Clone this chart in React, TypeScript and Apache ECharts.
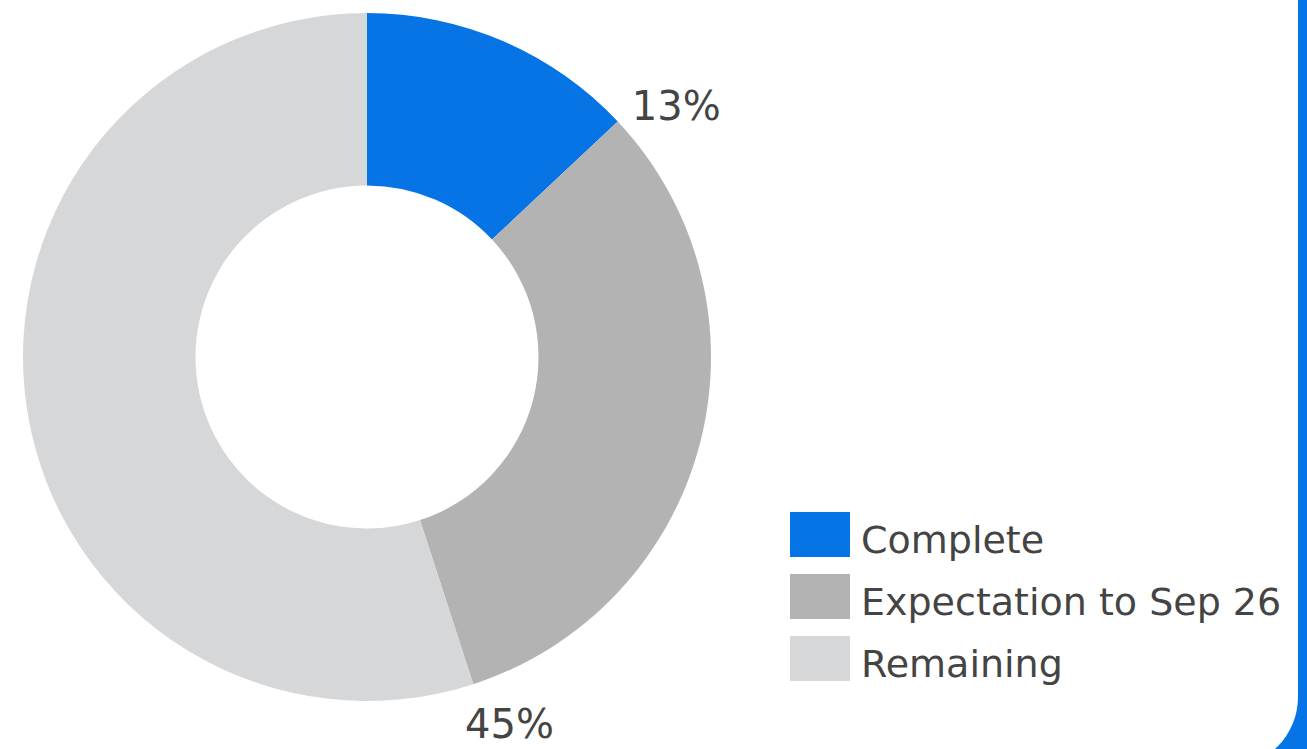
import React, { useEffect, useRef } from "react";
import * as echarts from "echarts";

const categories = ["Complete", "Expectation to Sep 26", "Remaining"];
const values = [13, 32, 55];
const colors = ["#0774E6", "#B3B3B3", "#D6D7D9"];
// cumulative percentage labels are shown after these slices
const labelledSlices = [0, 1];
// fine nudges for those labels (px)
const labelNudges = [
  [-7, 0],
  [-20, 19],
];

const FONT = "'DejaVu Sans', sans-serif";
const TEXT = "#444444";

export default function App() {
  const ref = useRef<HTMLDivElement>(null);

  useEffect(() => {
    if (!ref.current) return;
    const chart = echarts.init(ref.current, null, { renderer: "svg" });
    const total = values.reduce((a, b) => a + b, 0);

    const mainData = categories.map((name, i) => ({
      name,
      value: values[i],
      itemStyle: { color: colors[i] },
    }));

    let cum = 0;
    const markerData: any[] = [];
    const nudgeByIndex: Record<number, number[]> = {};
    values.forEach((v, i) => {
      markerData.push({ name: "seg" + i, value: v, label: { show: false } });
      cum += v;
      const k = labelledSlices.indexOf(i);
      if (k >= 0) {
        nudgeByIndex[markerData.length] = labelNudges[k];
        markerData.push({
          name: "mark" + i,
          value: 0,
          label: { show: true, formatter: Math.round((cum / total) * 100) + "%" },
        });
      }
    });

    chart.setOption({
      animation: false,
      legend: {
        orient: "vertical",
        left: 790,
        top: 512,
        padding: 0,
        itemWidth: 60,
        itemHeight: 45,
        itemGap: 15.5,
        icon: "rect",
        selectedMode: false,
        data: categories,
        formatter: "{t|{name}}",
        textStyle: {
          rich: {
            t: {
              fontSize: 38,
              fontFamily: FONT,
              color: TEXT,
              padding: [10, 0, 0, 6],
            },
          },
        },
      },
      series: [
        {
          type: "pie",
          center: [367, 357],
          radius: [171.5, 344],
          startAngle: 90,
          clockwise: true,
          silent: true,
          label: { show: false },
          labelLine: { show: false },
          data: mainData,
        },
        {
          type: "pie",
          center: [367, 357],
          radius: [171.5, 344],
          startAngle: 90,
          clockwise: true,
          silent: true,
          z: 3,
          minShowLabelAngle: 0,
          avoidLabelOverlap: false,
          itemStyle: { color: "transparent", borderWidth: 0 },
          label: {
            position: "outside",
            fontSize: 40,
            fontFamily: FONT,
            color: TEXT,
          },
          labelLine: { show: false, length: 22, length2: 0 },
          labelLayout: (params: any) => {
            const n = nudgeByIndex[params.dataIndex];
            return n ? { dx: n[0], dy: n[1] } : {};
          },
          data: markerData,
        },
      ],
    });

    return () => chart.dispose();
  }, []);

  return (
    <div
      style={{
        position: "fixed",
        left: 0,
        top: 0,
        width: 1307,
        height: 749,
        background: "#0774E6",
        overflow: "hidden",
      }}
    >
      <div
        style={{
          position: "absolute",
          left: 0,
          top: 0,
          width: 1298,
          height: 767,
          background: "#ffffff",
          borderBottomRightRadius: 70,
          overflow: "hidden",
        }}
      >
        <div ref={ref} style={{ position: "absolute", left: 0, top: 0, width: 1298, height: 749 }} />
      </div>
    </div>
  );
}
